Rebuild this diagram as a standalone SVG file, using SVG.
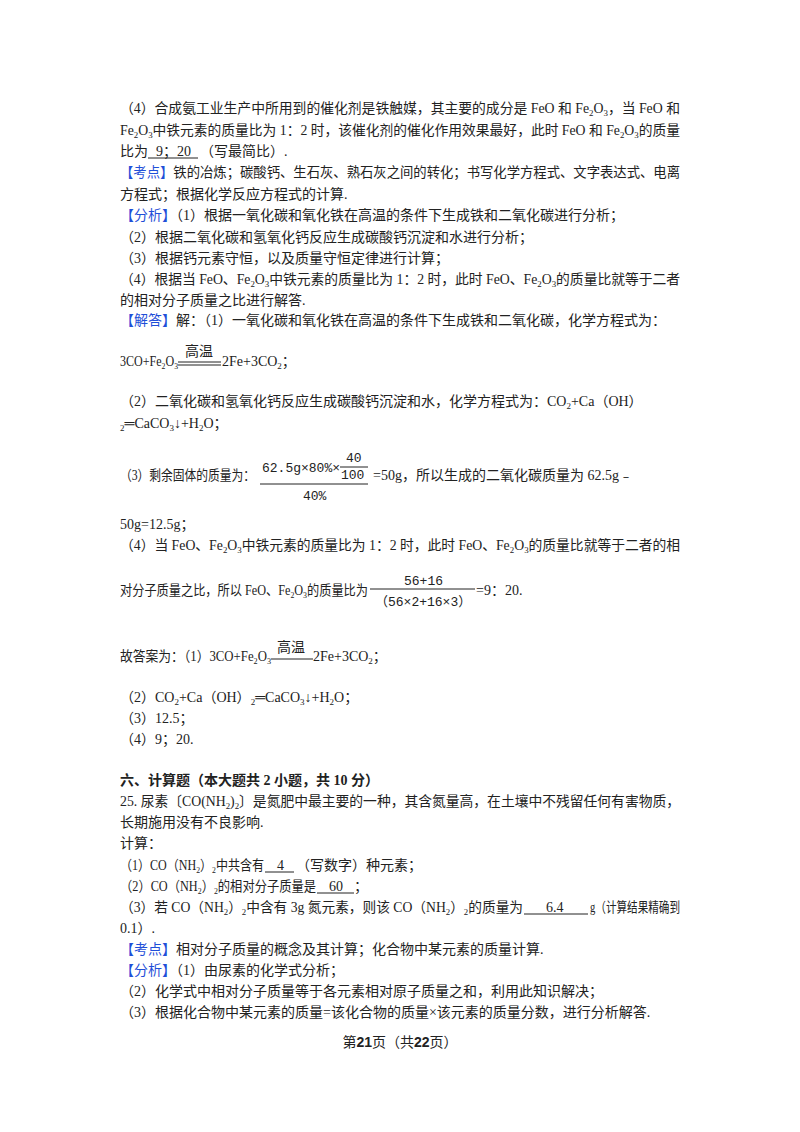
<svg xmlns="http://www.w3.org/2000/svg" width="800" height="1132" viewBox="0 0 800 1132">
<style>
text{font-family:"Liberation Serif","Noto Sans CJK SC",serif;font-size:14px;fill:#222}
.b{fill:#1f4fd8}
.s{font-size:9px}
.h{font-weight:bold}
.f{font-family:"Liberation Mono","Noto Sans CJK SC",monospace;font-size:13px}
line{stroke:#222;stroke-width:1}
</style>
<rect width="800" height="1132" fill="#fff"/>
<text x="120" y="113" textLength="560" lengthAdjust="spacingAndGlyphs">（4）合成氨工业生产中所用到的催化剂是铁触媒，其主要的成分是 FeO 和 Fe<tspan class="s" dy="3">2</tspan><tspan dy="-3">O</tspan><tspan class="s" dy="3">3</tspan><tspan dy="-3">，当 FeO 和</tspan></text>
<text x="120" y="135" textLength="560" lengthAdjust="spacingAndGlyphs">Fe<tspan class="s" dy="3">2</tspan><tspan dy="-3">O</tspan><tspan class="s" dy="3">3</tspan><tspan dy="-3">中铁元素的质量比为 1：2 时，该催化剂的催化作用效果最好，此时 FeO 和 Fe</tspan><tspan class="s" dy="3">2</tspan><tspan dy="-3">O</tspan><tspan class="s" dy="3">3</tspan><tspan dy="-3">的质量</tspan></text>
<text x="120" y="156" textLength="28" lengthAdjust="spacingAndGlyphs">比为</text>
<text x="156" y="156">9；20</text>
<line x1="148" y1="158" x2="198" y2="158"/>
<text x="200" y="156">（写最简比）.</text>
<text x="120" y="177" textLength="560" lengthAdjust="spacingAndGlyphs"><tspan class="b">【考点】</tspan>铁的冶炼；碳酸钙、生石灰、熟石灰之间的转化；书写化学方程式、文字表达式、电离</text>
<text x="120" y="199">方程式；根据化学反应方程式的计算.</text>
<text x="120" y="220"><tspan class="b">【分析】</tspan>（1）根据一氧化碳和氧化铁在高温的条件下生成铁和二氧化碳进行分析；</text>
<text x="120" y="242">（2）根据二氧化碳和氢氧化钙反应生成碳酸钙沉淀和水进行分析；</text>
<text x="120" y="263">（3）根据钙元素守恒，以及质量守恒定律进行计算；</text>
<text x="120" y="284" textLength="560" lengthAdjust="spacingAndGlyphs">（4）根据当 FeO、Fe<tspan class="s" dy="3">2</tspan><tspan dy="-3">O</tspan><tspan class="s" dy="3">3</tspan><tspan dy="-3">中铁元素的质量比为 1：2 时，此时 FeO、Fe</tspan><tspan class="s" dy="3">2</tspan><tspan dy="-3">O</tspan><tspan class="s" dy="3">3</tspan><tspan dy="-3">的质量比就等于二者</tspan></text>
<text x="120" y="305">的相对分子质量之比进行解答.</text>
<text x="120" y="325"><tspan class="b">【解答】</tspan>解：（1）一氧化碳和氧化铁在高温的条件下生成铁和二氧化碳，化学方程式为：</text>
<text x="120" y="366" textLength="58" lengthAdjust="spacingAndGlyphs">3CO+Fe<tspan class="s" dy="3">2</tspan><tspan dy="-3">O</tspan><tspan class="s" dy="3">3</tspan></text>
<text x="185" y="356" font-size="15">高温</text>
<line x1="178" y1="362" x2="221" y2="362"/><line x1="178" y1="365" x2="221" y2="365"/>
<text x="222" y="366">2Fe+3CO<tspan class="s" dy="3">2</tspan><tspan dy="-3">；</tspan></text>
<text x="120" y="406">（2）二氧化碳和氢氧化钙反应生成碳酸钙沉淀和水，化学方程式为：CO<tspan class="s" dy="3">2</tspan><tspan dy="-3">+Ca（OH）</tspan></text>
<text x="120" y="428"><tspan class="s" dy="3">2</tspan><tspan dy="-3">═CaCO</tspan><tspan class="s" dy="3">3</tspan><tspan dy="-3">↓+H</tspan><tspan class="s" dy="3">2</tspan><tspan dy="-3">O；</tspan></text>
<text x="120" y="480" textLength="135" lengthAdjust="spacingAndGlyphs">（3）剩余固体的质量为：</text>
<text x="262" y="472" class="f">62.5g×80%×</text>
<text x="346" y="462" class="f">40</text>
<text x="341" y="479" class="f">100</text>
<line x1="340" y1="467" x2="368" y2="467"/>
<line x1="260" y1="484" x2="368" y2="484"/>
<text x="303" y="500" class="f">40%</text>
<text x="373" y="480">=50g，所以生成的二氧化碳质量为 62.5g﹣</text>
<text x="120" y="529">50g=12.5g；</text>
<text x="120" y="550" textLength="560" lengthAdjust="spacingAndGlyphs">（4）当 FeO、Fe<tspan class="s" dy="3">2</tspan><tspan dy="-3">O</tspan><tspan class="s" dy="3">3</tspan><tspan dy="-3">中铁元素的质量比为 1：2 时，此时 FeO、Fe</tspan><tspan class="s" dy="3">2</tspan><tspan dy="-3">O</tspan><tspan class="s" dy="3">3</tspan><tspan dy="-3">的质量比就等于二者的相</tspan></text>
<text x="120" y="595" textLength="248" lengthAdjust="spacingAndGlyphs">对分子质量之比，所以 FeO、Fe<tspan class="s" dy="3">2</tspan><tspan dy="-3">O</tspan><tspan class="s" dy="3">3</tspan><tspan dy="-3">的质量比为</tspan></text>
<text x="404" y="585" class="f">56+16</text>
<line x1="370" y1="589" x2="475" y2="589"/>
<text x="375" y="606" class="f">（56×2+16×3）</text>
<text x="476" y="595">=9：20.</text>
<text x="120" y="661" textLength="151" lengthAdjust="spacingAndGlyphs">故答案为：（1）3CO+Fe<tspan class="s" dy="3">2</tspan><tspan dy="-3">O</tspan><tspan class="s" dy="3">3</tspan></text>
<text x="277" y="652" font-size="15">高温</text>
<line x1="271" y1="659" x2="313" y2="659" stroke-width="2" stroke="#777"/>
<text x="313" y="661">2Fe+3CO<tspan class="s" dy="3">2</tspan><tspan dy="-3">；</tspan></text>
<text x="120" y="702">（2）CO<tspan class="s" dy="3">2</tspan><tspan dy="-3">+Ca（OH）</tspan><tspan class="s" dy="3">2</tspan><tspan dy="-3">═CaCO</tspan><tspan class="s" dy="3">3</tspan><tspan dy="-3">↓+H</tspan><tspan class="s" dy="3">2</tspan><tspan dy="-3">O；</tspan></text>
<text x="120" y="723">（3）12.5；</text>
<text x="120" y="744">（4）9；20.</text>
<text x="120" y="785" class="h">六、计算题（本大题共 2 小题，共 10 分）</text>
<text x="120" y="806" textLength="560" lengthAdjust="spacingAndGlyphs">25. 尿素〔CO(NH<tspan class="s" dy="3">2</tspan><tspan dy="-3">)</tspan><tspan class="s" dy="3">2</tspan><tspan dy="-3">〕是氮肥中最主要的一种，其含氮量高，在土壤中不残留任何有害物质，</tspan></text>
<text x="120" y="827">长期施用没有不良影响.</text>
<text x="120" y="848">计算：</text>
<text x="120" y="870" textLength="144" lengthAdjust="spacingAndGlyphs">（1）CO（NH<tspan class="s" dy="3">2</tspan><tspan dy="-3">）</tspan><tspan class="s" dy="3">2</tspan><tspan dy="-3">中共含有</tspan></text>
<text x="277" y="870">4</text>
<line x1="265" y1="872" x2="294" y2="872"/>
<text x="296" y="870">（写数字）种元素；</text>
<text x="120" y="891" textLength="196" lengthAdjust="spacingAndGlyphs">（2）CO（NH<tspan class="s" dy="3">2</tspan><tspan dy="-3">）</tspan><tspan class="s" dy="3">2</tspan><tspan dy="-3">的相对分子质量是</tspan></text>
<text x="329" y="891">60</text>
<line x1="317" y1="893" x2="354" y2="893"/>
<text x="354" y="891">；</text>
<text x="120" y="912" textLength="403" lengthAdjust="spacingAndGlyphs">（3）若 CO（NH<tspan class="s" dy="3">2</tspan><tspan dy="-3">）</tspan><tspan class="s" dy="3">2</tspan><tspan dy="-3">中含有 3g 氮元素，则该 CO（NH</tspan><tspan class="s" dy="3">2</tspan><tspan dy="-3">）</tspan><tspan class="s" dy="3">2</tspan><tspan dy="-3">的质量为</tspan></text>
<text x="546" y="912">6.4</text>
<line x1="524" y1="914" x2="588" y2="914"/>
<text x="590" y="912" textLength="90" lengthAdjust="spacingAndGlyphs">g（计算结果精确到</text>
<text x="120" y="933">0.1）.</text>
<text x="120" y="954"><tspan class="b">【考点】</tspan>相对分子质量的概念及其计算；化合物中某元素的质量计算.</text>
<text x="120" y="975"><tspan class="b">【分析】</tspan>（1）由尿素的化学式分析；</text>
<text x="120" y="996">（2）化学式中相对分子质量等于各元素相对原子质量之和，利用此知识解决；</text>
<text x="120" y="1017">（3）根据化合物中某元素的质量=该化合物的质量×该元素的质量分数，进行分析解答.</text>
<text x="400" y="1047" text-anchor="middle">第<tspan class="h" font-family="Liberation Sans">21</tspan>页（共<tspan class="h" font-family="Liberation Sans">22</tspan>页）</text>
</svg>
